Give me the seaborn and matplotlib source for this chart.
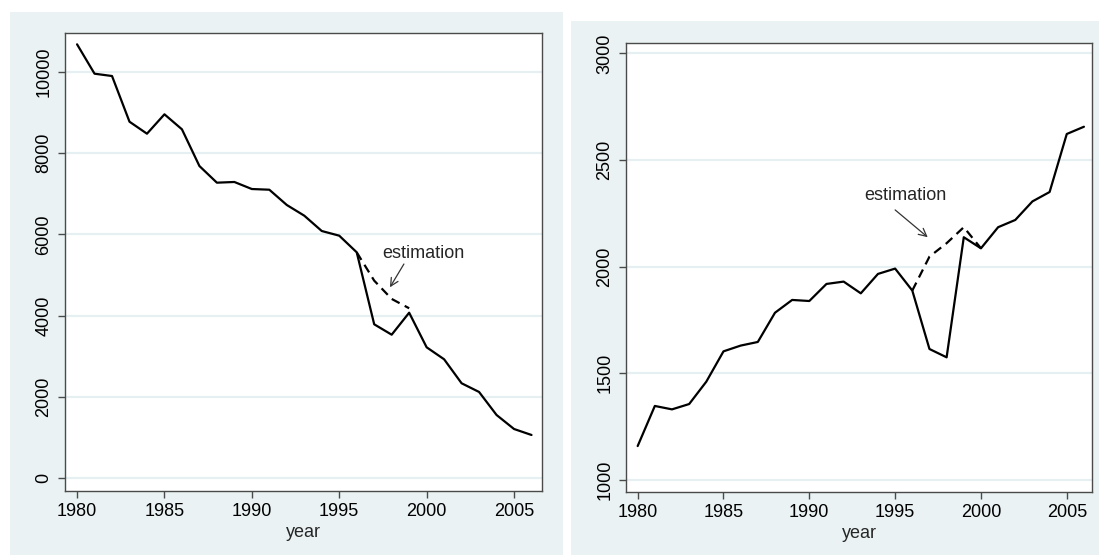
# ==========================================
# Two panels: series with estimation segment
# ==========================================

import numpy as np
import pandas as pd
import matplotlib
matplotlib.use("Agg")
import matplotlib.pyplot as plt
from matplotlib.patches import Rectangle
import seaborn as sns

# ==========================================
# Data
# ==========================================

years = list(range(1980, 2007))

left_values = [
    10674, 9951, 9894, 8770, 8475, 8952, 8583, 7680, 7270, 7287,
    7114, 7097, 6721, 6458, 6081, 5966, 5557, 3786, 3530, 4071,
    3220, 2925, 2335, 2121, 1555, 1210, 1063
]

right_values = [
    1159, 1347, 1331, 1356, 1461, 1603, 1630, 1647, 1784, 1844,
    1839, 1919, 1930, 1875, 1966, 1991, 1888, 1614, 1575, 2138,
    2086, 2185, 2219, 2306, 2350, 2622, 2656
]

left_est_years = [1996, 1997, 1998, 1999]
left_est_values = [5557, 4860, 4410, 4180]

right_est_years = [1996, 1997, 1998, 1999, 2000]
right_est_values = [1888, 2047, 2110, 2185, 2086]

left_yticks = [0, 2000, 4000, 6000, 8000, 10000]
right_yticks = [1000, 1500, 2000, 2500, 3000]
xticks = [1980, 1985, 1990, 1995, 2000, 2005]

df = pd.DataFrame({
    "year": years,
    "left": left_values,
    "right": right_values
})

# ==========================================
# Style
# ==========================================

sns.set_style("white")
plt.rcParams["font.family"] = ["Liberation Sans", "DejaVu Sans"]

BG = "#EAF2F3"
GRID = "#E6EFF1"
SPINE = "#4a4a4a"

fig = plt.figure(figsize=(10.99, 5.56), dpi=100)
fig.patch.set_facecolor("white")

W, H = 1099, 556


def px_rect(x0, y0, x1, y1):
    # pixel box (top-left origin) -> figure fraction rectangle
    return [x0 / W, (H - y1) / H, (x1 - x0) / W, (y1 - y0) / H]


# panel backgrounds
for box in [(10, 12, 563, 555), (571, 21, 1099, 555)]:
    l, b, w, h = px_rect(*box)
    fig.patches.append(Rectangle((l, b), w, h, transform=fig.transFigure,
                                 facecolor=BG, edgecolor="none", zorder=-10))

ax1 = fig.add_axes(px_rect(65, 33.3, 542, 490.5))
ax2 = fig.add_axes(px_rect(626, 42.7, 1092, 491.7))

panels = [
    (ax1, "left", left_est_years, left_est_values, left_yticks,
     (1979.31, 2006.6), (-303, 10945),
     (1999.8, 5533), (1998.7, 5269), (1997.9, 4696)),
    (ax2, "right", right_est_years, right_est_values, right_yticks,
     (1979.32, 2006.47), (945, 3050),
     (1995.6, 2333), (1995.0, 2266), (1996.9, 2138)),
]

for ax, col, est_x, est_y, yticks, xlim, ylim, txt, a0, a1 in panels:

    ax.set_facecolor("white")

    sns.lineplot(data=df, x="year", y=col, ax=ax,
                 color="black", linewidth=1.6, zorder=3)

    sns.lineplot(x=est_x, y=est_y, ax=ax,
                 color="black", linewidth=1.6, zorder=3,
                 linestyle=(0, (4, 2.6)))

    ax.set_xlim(*xlim)
    ax.set_ylim(*ylim)

    ax.set_xticks(xticks)
    ax.set_yticks(yticks)
    ax.set_yticklabels([str(v) for v in yticks], rotation=90, va="center")

    ax.yaxis.grid(True, color=GRID, linewidth=1.6)
    ax.xaxis.grid(False)
    ax.set_axisbelow(True)

    ax.tick_params(axis="both", direction="out", length=5, width=1.0,
                   color=SPINE, labelsize=13, labelcolor="black",
                   left=True, bottom=True, pad=4)

    for s in ax.spines.values():
        s.set_visible(True)
        s.set_color(SPINE)
        s.set_linewidth(1.0)

    ax.set_xlabel("year", fontsize=13, labelpad=3)
    ax.set_ylabel("")

    ax.text(txt[0], txt[1], "estimation", fontsize=13,
            ha="center", va="center", zorder=4)
    ax.annotate("", xy=a1, xytext=a0,
                arrowprops=dict(arrowstyle="->", color="#333333",
                                lw=0.9, shrinkA=0, shrinkB=0,
                                mutation_scale=14))

plt.savefig("out.png", dpi=100, facecolor="white")
